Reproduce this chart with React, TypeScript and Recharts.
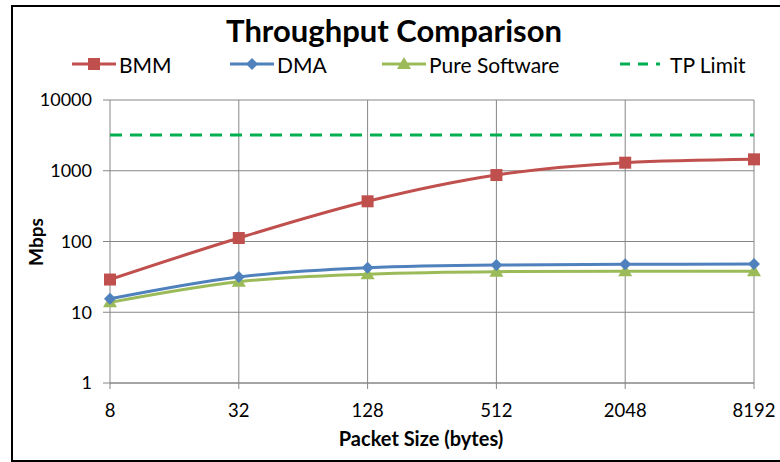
import React from 'react';
import { LineChart, Line, XAxis, YAxis, CartesianGrid } from 'recharts';

const packetSizes = ['8', '32', '128', '512', '2048', '8192'];
const bmmMbps = [29, 112, 370, 870, 1300, 1450];
const dmaMbps = [15.5, 31.5, 42.5, 46.5, 47.5, 48];
const pureSoftwareMbps = [13.8, 27, 34.5, 37.5, 38, 38];
const tpLimitMbps = 3200;
const yTicks = [1, 10, 100, 1000, 10000];

const RED = '#C0504D';
const BLUE = '#4F81BD';
const GREEN = '#9BBB59';
const LIMIT = '#00B050';
const GRID = '#868686';
const FONT = 'Lato, "Open Sans", sans-serif';

const data = packetSizes.map((size, i) => ({
  size,
  bmm: bmmMbps[i],
  dma: dmaMbps[i],
  pure: pureSoftwareMbps[i],
  limit: tpLimitMbps,
}));

const SquareDot = (props: any) => {
  const { cx, cy } = props;
  if (cx == null || cy == null) return null;
  return <rect x={cx - 6} y={cy - 6} width={12} height={12} fill={RED} />;
};

const DiamondDot = (props: any) => {
  const { cx, cy } = props;
  if (cx == null || cy == null) return null;
  return <polygon points={`${cx},${cy - 6} ${cx + 6},${cy} ${cx},${cy + 6} ${cx - 6},${cy}`} fill={BLUE} />;
};

const TriangleDot = (props: any) => {
  const { cx, cy } = props;
  if (cx == null || cy == null) return null;
  return <polygon points={`${cx},${cy - 7} ${cx + 7},${cy + 5} ${cx - 7},${cy + 5}`} fill={GREEN} />;
};

const legendItems = [
  { label: 'BMM', color: RED, marker: 'square', x: 72 },
  { label: 'DMA', color: BLUE, marker: 'diamond', x: 230 },
  { label: 'Pure Software', color: GREEN, marker: 'triangle', x: 382 },
  { label: 'TP Limit', color: LIMIT, marker: 'dash', x: 618 },
];

const LegendIcon = ({ color, marker }: { color: string; marker: string }) => (
  <svg width={44} height={16} style={{ display: 'block' }}>
    {marker === 'dash' ? (
      <line x1={2} y1={8} x2={42} y2={8} stroke={color} strokeWidth={3} strokeDasharray="10 8" />
    ) : (
      <line x1={0} y1={8} x2={44} y2={8} stroke={color} strokeWidth={3} />
    )}
    {marker === 'square' && <rect x={16} y={2} width={12} height={12} fill={color} />}
    {marker === 'diamond' && <polygon points="22,2 28,8 22,14 16,8" fill={color} />}
    {marker === 'triangle' && <polygon points="22,1 29,13 15,13" fill={color} />}
  </svg>
);

export default function App() {
  return (
    <div style={{ position: 'absolute', left: 0, top: 0, width: 780, height: 462, background: '#fff', fontFamily: FONT, overflow: 'hidden' }}>
      <div style={{ position: 'absolute', left: 11, top: 5, width: 800, height: 453, borderLeft: '2px solid #000', borderTop: '2px solid #000', borderBottom: '2px solid #000' }} />
      <div style={{ position: 'absolute', left: 0, width: 788, top: 11, textAlign: 'center', fontSize: 31, fontWeight: 700, lineHeight: '38px', color: '#000' }}>
        Throughput Comparison
      </div>
      {legendItems.map((item) => (
        <div key={item.label} style={{ position: 'absolute', left: item.x, top: 51, display: 'flex', alignItems: 'center', height: 26, fontSize: 21, color: '#000' }}>
          <LegendIcon color={item.color} marker={item.marker} />
          <span style={{ marginLeft: item.marker === 'dash' ? 8 : 3 }}>{item.label}</span>
        </div>
      ))}
      <div style={{ position: 'absolute', left: 35, top: 242, transform: 'translate(-50%, -50%) rotate(-90deg)', fontSize: 19, fontWeight: 700, color: '#000' }}>
        Mbps
      </div>
      <div style={{ position: 'absolute', left: 0, width: 842, top: 426, textAlign: 'center', fontSize: 20, fontWeight: 700, color: '#000' }}>
        Packet Size (bytes)
      </div>
      <div style={{ position: 'absolute', left: 0, top: 0 }}>
        <LineChart width={780} height={462} data={data} margin={{ top: 100, right: 26, left: 50, bottom: 49 }}>
          <CartesianGrid stroke={GRID} strokeWidth={1} />
          <XAxis
            dataKey="size"
            height={30}
            stroke={GRID}
            tickSize={6}
            tickMargin={15}
            tick={{ fill: '#000', fontSize: 18.5 }}
            interval={0}
          />
          <YAxis
            width={60}
            scale="log"
            domain={[1, 10000]}
            ticks={yTicks}
            allowDataOverflow
            axisLine={false}
            stroke={GRID}
            tickSize={7}
            tickMargin={11}
            tick={{ fill: '#000', fontSize: 18 }}
            interval={0}
          />
          <Line type="monotone" dataKey="limit" stroke={LIMIT} strokeWidth={3} strokeDasharray="12 8" dot={false} isAnimationActive={false} />
          <Line type="monotone" dataKey="pure" stroke={GREEN} strokeWidth={3} dot={<TriangleDot />} isAnimationActive={false} />
          <Line type="monotone" dataKey="dma" stroke={BLUE} strokeWidth={3} dot={<DiamondDot />} isAnimationActive={false} />
          <Line type="monotone" dataKey="bmm" stroke={RED} strokeWidth={3} dot={<SquareDot />} isAnimationActive={false} />
        </LineChart>
      </div>
    </div>
  );
}
